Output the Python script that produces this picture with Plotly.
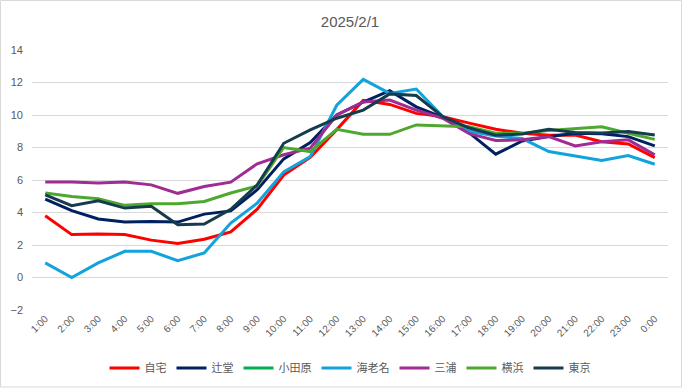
import plotly.graph_objects as go

hours = ["1:00", "2:00", "3:00", "4:00", "5:00", "6:00", "7:00", "8:00", "9:00", "10:00",
         "11:00", "12:00", "13:00", "14:00", "15:00", "16:00", "17:00", "18:00", "19:00",
         "20:00", "21:00", "22:00", "23:00", "0:00"]

jitaku = [3.8, 2.64, 2.68, 2.64, 2.3, 2.1, 2.35, 2.8, 4.2, 6.3, 7.4, 9.1, 10.9, 10.65,
          10.1, 9.9, 9.5, 9.12, 8.88, 8.75, 8.77, 8.36, 8.22, 7.38]
tsujido = [4.83, 4.11, 3.6, 3.41, 3.45, 3.41, 3.9, 4.1, 5.4, 7.3, 8.3, 10.0, 10.8, 11.5,
           10.5, 9.85, 8.9, 7.59, 8.4, 8.67, 8.88, 8.85, 8.67, 8.1]
odawara = [None] * 24
ebina = [0.9, 0.0, 0.9, 1.61, 1.61, 1.04, 1.51, 3.35, 4.58, 6.5, 7.44, 10.6, 12.19, 11.33,
         11.6, 9.9, 9.0, 8.7, 8.55, 7.75, 7.48, 7.2, 7.5, 6.97]
miura = [5.87, 5.87, 5.81, 5.87, 5.7, 5.18, 5.6, 5.87, 7.0, 7.55, 7.96, 10.0, 10.8, 10.92,
         10.3, 9.8, 8.85, 8.43, 8.47, 8.67, 8.1, 8.36, 8.47, 7.55]
yokohama = [5.2, 4.99, 4.84, 4.44, 4.54, 4.54, 4.68, 5.2, 5.64, 8.0, 7.75, 9.12, 8.81, 8.81,
            9.39, 9.35, 9.28, 8.88, 8.88, 9.04, 9.16, 9.28, 8.88, 8.5]
tokyo = [5.09, 4.42, 4.72, 4.27, 4.38, 3.25, 3.29, 4.2, 5.7, 8.26, 9.08, 9.8, 10.3, 11.3,
         11.2, 9.9, 9.2, 8.75, 8.83, 9.12, 8.92, 8.9, 8.98, 8.77]

series = [
    ("自宅", jitaku, "#FF0000"),
    ("辻堂", tsujido, "#002060"),
    ("小田原", odawara, "#00B050"),
    ("海老名", ebina, "#12A2DC"),
    ("三浦", miura, "#A02B93"),
    ("横浜", yokohama, "#4EA72E"),
    ("東京", tokyo, "#143C4C"),
]

fig = go.Figure()
for name, vals, col in series:
    fig.add_trace(go.Scatter(x=hours, y=vals, name=name, mode="lines",
                             line=dict(color=col, width=3)))

font_family = "Liberation Sans, Noto Sans CJK JP, sans-serif"
PW, PH, L, T = 636, 260, 32, 50


def px(x):
    return (x - L) / PW


def py(y):
    return (T + PH - y) / PH


fig.update_layout(
    width=683, height=388,
    margin=dict(l=L, r=683 - L - PW, t=T, b=388 - T - PH, autoexpand=False),
    paper_bgcolor="white", plot_bgcolor="white",
    font=dict(family=font_family, color="#595959", size=11),
    title=dict(text="2025/2/1", x=0.5, xanchor="center", xref="paper",
               y=1 - 22 / 388, yanchor="middle", yref="container",
               font=dict(size=15, color="#595959", family=font_family)),
    showlegend=True,
    legend=dict(orientation="h", x=0.5, xanchor="center", y=py(368), yanchor="middle",
                font=dict(size=11, color="#595959", family=font_family),
                itemwidth=30, traceorder="normal"),
    xaxis=dict(type="category", range=[-0.5, 23.5], showgrid=False, tickangle=-45,
               tickfont=dict(size=10, color="#595959"), showline=False, ticks="",
               automargin=False),
    yaxis=dict(range=[-2, 14], dtick=2, showgrid=True, gridcolor="#D9D9D9", gridwidth=1,
               zeroline=True, zerolinecolor="#D9D9D9", zerolinewidth=1,
               tickfont=dict(size=11, color="#595959"), ticks="", ticklen=0,
               ticklabelstandoff=8, automargin=False),
    shapes=[dict(type="rect", xref="paper", yref="paper",
                 x0=px(0.5), x1=px(681.5), y0=py(387), y1=py(0.5),
                 line=dict(color="#D9D9D9", width=1), fillcolor="rgba(0,0,0,0)",
                 layer="below")],
)

fig.write_html("out.html", config={"displayModeBar": False},
               post_script="document.body.style.margin='0px';document.body.style.overflow='hidden';")
